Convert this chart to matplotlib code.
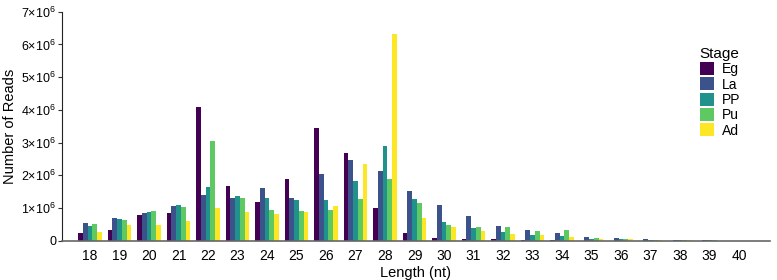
import matplotlib
matplotlib.use("Agg")
import matplotlib.pyplot as plt
import numpy as np

plt.rcParams['font.family'] = ['Liberation Sans', 'DejaVu Sans']

# Data (millions of reads)
lengths = list(range(18, 41))
stages = ["Eg", "La", "PP", "Pu", "Ad"]
colors = ["#440154", "#3b528b", "#21918c", "#5ec962", "#fde725"]

eg = [0.22, 0.34, 0.79, 0.86, 4.10, 1.68, 1.18, 1.90, 3.46, 2.67, 1.00, 0.22,
      0.09, 0.05, 0.04, 0.02, 0.01, 0.005, 0.003, 0.002, 0.002, 0.001, 0.001]
la = [0.55, 0.70, 0.85, 1.05, 1.39, 1.30, 1.61, 1.29, 2.04, 2.48, 2.13, 1.52,
      1.09, 0.76, 0.45, 0.33, 0.23, 0.10, 0.08, 0.05, 0.025, 0.01, 0.003]
pp = [0.44, 0.66, 0.88, 1.10, 1.64, 1.38, 1.30, 1.23, 1.23, 1.82, 2.89, 1.26,
      0.57, 0.39, 0.27, 0.17, 0.13, 0.05, 0.04, 0.03, 0.02, 0.015, 0.003]
pu = [0.50, 0.64, 0.92, 1.02, 3.04, 1.29, 0.95, 0.90, 0.95, 1.28, 1.89, 1.16,
      0.49, 0.41, 0.41, 0.29, 0.33, 0.08, 0.06, 0.03, 0.03, 0.02, 0.003]
ad = [0.26, 0.47, 0.48, 0.61, 1.01, 0.87, 0.82, 0.87, 1.05, 2.35, 6.33, 0.69,
      0.42, 0.31, 0.21, 0.16, 0.11, 0.05, 0.04, 0.02, 0.01, 0.005, 0.003]
series = [eg, la, pp, pu, ad]

fig = plt.figure(figsize=(7.77, 2.8), dpi=100)
ax = fig.add_axes([0.0794, 0.1404, 0.9116, 0.8176])

x = np.array(lengths)
w = 0.16
for i, (name, vals, c) in enumerate(zip(stages, series, colors)):
    ax.bar(x + (i - 2) * w, np.array(vals) * 1e6, width=w, color=c,
           label=name, linewidth=0)

ax.set_xlim(17.04, 41.05)
ax.set_ylim(0, 7e6)
ax.set_xticks(lengths)
ax.set_xticklabels([str(v) for v in lengths], fontsize=10)
yt = np.arange(0, 8) * 1e6
ax.set_yticks(yt)
ax.set_yticklabels(['0'] + [r'$\mathregular{%d{\times}10^{6}}$' % k for k in range(1, 8)],
                   fontsize=9)
ax.tick_params(axis='x', length=0, pad=6)
ax.tick_params(axis='y', length=3, width=0.8, color='#333333', pad=1)

for s in ['top', 'right']:
    ax.spines[s].set_visible(False)
ax.spines['bottom'].set_color('#666666')
ax.spines['bottom'].set_linewidth(1.2)
ax.spines['left'].set_color('#222222')

ax.set_xlabel('Length (nt)', fontsize=10.5, labelpad=2)
ax.set_ylabel('Number of Reads', fontsize=10.5, labelpad=3)

leg = ax.legend(title='Stage', loc='upper left', bbox_to_anchor=(0.893, 0.87),
                frameon=False, fontsize=10, title_fontsize=11,
                handlelength=1.0, handleheight=1.05, handletextpad=0.6,
                labelspacing=0.08, alignment='left', borderaxespad=0)

fig.savefig('out.png', dpi=100)
